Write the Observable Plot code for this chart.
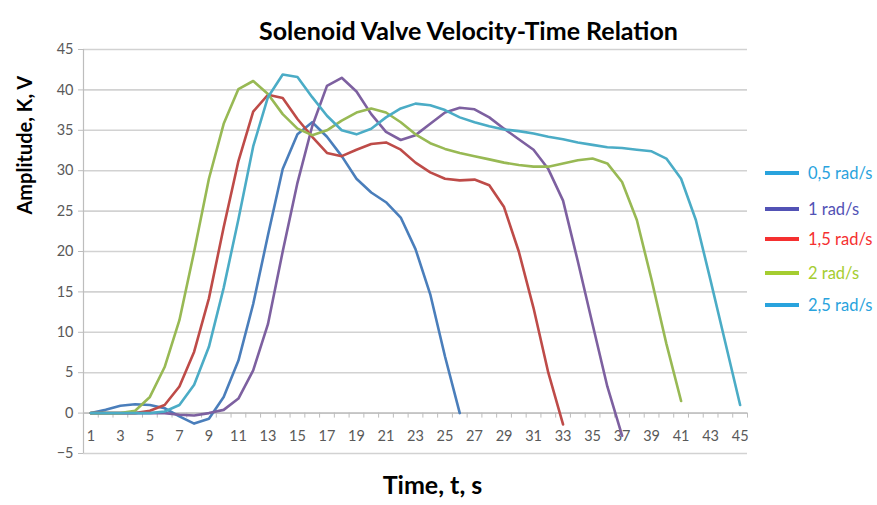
<!DOCTYPE html>
<html><head><meta charset="utf-8">
<script src="https://cdn.jsdelivr.net/npm/d3@7"></script>
<script src="https://cdn.jsdelivr.net/npm/@observablehq/plot@0.6"></script>
<style>
body{margin:0;background:#fff;}
#wrap{position:relative;width:877px;height:505px;font-family:Lato,"Open Sans",sans-serif;}
.item{position:absolute;left:765px;display:flex;align-items:center;white-space:nowrap;font-size:16.5px;line-height:18px;}
.sw{width:34px;height:4px;margin-right:9px;}
</style></head><body><div id="wrap"></div>
<script>
const title = "Solenoid Valve Velocity-Time Relation";
const xLabel = "Time, t, s";
const yLabel = "Amplitude, K, V";
const seriesNames = ["0,5 rad/s", "1 rad/s", "1,5 rad/s", "2 rad/s", "2,5 rad/s"];
const lineColors = ["#4a7ebb", "#7d60a0", "#be4b48", "#98b954", "#4bacc6"];
const legendColors = ["#29a3dd", "#5252b5", "#f53030", "#a5cd30", "#29a3dd"];
const yTicks = [-5, 0, 5, 10, 15, 20, 25, 30, 35, 40, 45];
const xTickLabels = [1,3,5,7,9,11,13,15,17,19,21,23,25,27,29,31,33,35,37,39,41,43,45];
const categories = d3.range(1, 46);

const s05 = [0,0.4,0.9,1.1,1.0,0.6,-0.4,-1.3,-0.7,2.0,6.5,13.5,22.0,30.2,34.5,36.0,34.2,31.8,29.0,27.3,26.1,24.2,20.3,14.7,7.0,0.0];
const s10 = [0,0,0,0,0,0,-0.2,-0.3,0,0.4,1.8,5.3,11.0,20.0,28.5,35.5,40.5,41.5,39.8,37.0,34.8,33.8,34.4,35.8,37.2,37.8,37.6,36.6,35.2,33.9,32.6,30.2,26.3,18.8,11.0,3.3,-2.8];
const s15 = [0,0,0,0,0.3,1.0,3.3,7.6,14.2,23.0,31.2,37.3,39.4,39.0,36.4,34.2,32.2,31.8,32.6,33.3,33.5,32.6,31.0,29.8,29.0,28.8,28.9,28.2,25.5,20.0,13.0,5.0,-1.4];
const s20 = [0,0,0,0.3,2.0,5.7,11.5,20.0,29.0,35.8,40.1,41.1,39.5,37.0,35.2,34.4,35.0,36.2,37.2,37.7,37.2,36.0,34.5,33.4,32.7,32.2,31.8,31.4,31.0,30.7,30.5,30.5,30.9,31.3,31.5,30.9,28.6,23.9,16.5,8.6,1.5];
const s25 = [0,0,0,0,0,0.2,1.0,3.5,8.2,15.5,24.0,33.0,39.1,41.9,41.6,39.1,36.8,35.0,34.5,35.2,36.6,37.7,38.3,38.1,37.5,36.6,36.0,35.5,35.1,34.9,34.6,34.2,33.9,33.5,33.2,32.9,32.8,32.6,32.4,31.5,29.0,23.9,16.4,8.7,1.0];

const allSeries = [s05, s10, s15, s20, s25];
const rows = allSeries.flatMap((vals, si) => vals.map((v, i) => ({t: categories[i], v, s: seriesNames[si]})));
const bounds = d3.range(0, 46).map(i => i + 0.5);

// layout
const W = 877, H = 505, mT = 49, mB = 52, mL = 83, mR = 130;
const yDomain = [-5, 45];
const innerH = H - mT - mB;
const zeroDy = -innerH * (0 - yDomain[0]) / (yDomain[1] - yDomain[0]);

const chart = Plot.plot({
  width: W, height: H,
  marginTop: mT, marginBottom: mB, marginLeft: mL, marginRight: mR,
  style: {fontFamily: "Lato, 'Open Sans', sans-serif", fontSize: "14px", color: "#595959", background: "white"},
  x: {domain: [0.5, 45.5], axis: null},
  y: {domain: yDomain, axis: null},
  color: {domain: seriesNames, range: lineColors},
  marks: [
    Plot.ruleY(yTicks, {stroke: "#d2d2d2", strokeWidth: 1.6}),
    Plot.ruleX([0.5], {stroke: "#bdbdbd", strokeWidth: 1.2}),
    Plot.ruleY([0], {stroke: "#c4c4c4", strokeWidth: 1.6}),
    Plot.axisY({ticks: yTicks, tickSize: 5, tickPadding: 5, stroke: "#bdbdbd", fill: "#595959", fontSize: 14.5, label: null}),
    Plot.axisX({ticks: bounds, tickSize: 5, tickFormat: () => "", stroke: "#bdbdbd", dy: zeroDy, label: null}),
    Plot.axisX({ticks: xTickLabels, tickSize: 0, tickPadding: 18, fill: "#595959", fontSize: 14.5, dy: zeroDy, label: null}),
    Plot.line(rows, {x: "t", y: "v", z: "s", stroke: "s", strokeWidth: 2.6, strokeLinejoin: "round"}),
    Plot.text([title], {frameAnchor: "top", dx: 53, dy: -27, fontSize: 25, fontWeight: "bold", fill: "#000"}),
    Plot.text([xLabel], {frameAnchor: "bottom", dx: 17, dy: 40, fontSize: 25, fontWeight: "bold", fill: "#000"}),
    Plot.text([yLabel], {frameAnchor: "left", dx: -58, dy: -37, rotate: -90, fontSize: 20, fontWeight: "bold", fill: "#000"})
  ]
});
const wrap = document.getElementById("wrap");
wrap.appendChild(chart);

const legendTops = [172.7, 209.3, 239.3, 272.7, 305];
seriesNames.forEach((name, i) => {
  const it = document.createElement("div");
  it.className = "item";
  it.style.top = (legendTops[i] - 9) + "px";
  it.style.color = legendColors[i];
  const sw = document.createElement("span");
  sw.className = "sw";
  sw.style.background = legendColors[i];
  const tx = document.createElement("span");
  tx.textContent = name;
  it.appendChild(sw); it.appendChild(tx);
  wrap.appendChild(it);
});
</script></body></html>
